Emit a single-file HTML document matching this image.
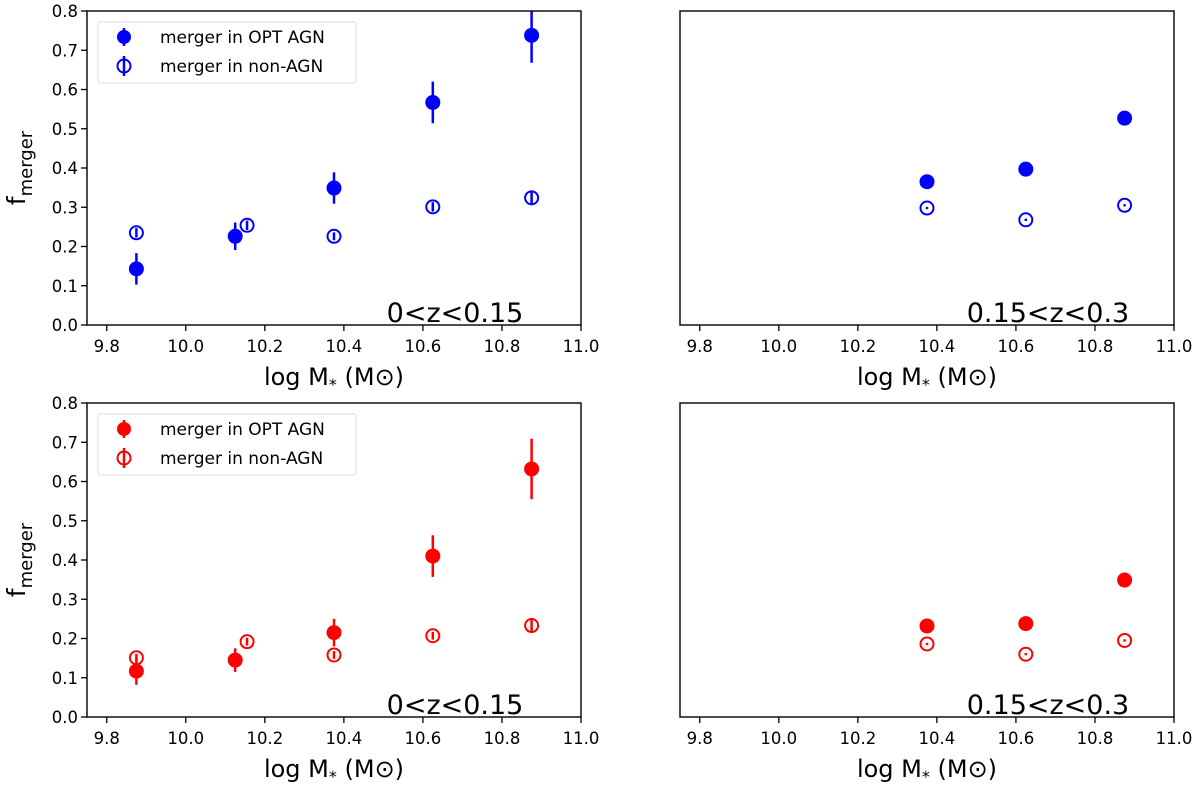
<!DOCTYPE html>
<html><head><meta charset="utf-8">
<style>
html,body{margin:0;padding:0;background:#fff;}
svg{display:block;font-family:"DejaVu Sans","Liberation Sans",sans-serif;}
</style></head>
<body>
<svg id="fig" width="1200" height="790" viewBox="0 0 1200 790" xmlns="http://www.w3.org/2000/svg"></svg>
<script>
const xTicks = [9.8, 10.0, 10.2, 10.4, 10.6, 10.8, 11.0];
const yTicks = [0.0, 0.1, 0.2, 0.3, 0.4, 0.5, 0.6, 0.7, 0.8];
// top-left (blue, 0<z<0.15)
const tlAgnX = [9.875, 10.125, 10.375, 10.625, 10.875];
const tlAgnY = [0.143, 0.226, 0.349, 0.567, 0.738];
const tlAgnErr = [0.04, 0.035, 0.04, 0.053, 0.07];
const tlNonX = [9.875, 10.155, 10.375, 10.625, 10.875];
const tlNonY = [0.235, 0.254, 0.226, 0.301, 0.324];
const tlNonErr = [0.012, 0.012, 0.01, 0.012, 0.018];
// top-right (blue, 0.15<z<0.3)
const trAgnX = [10.375, 10.625, 10.875];
const trAgnY = [0.365, 0.397, 0.527];
const trAgnErr = [0.008, 0.008, 0.016];
const trNonX = [10.375, 10.625, 10.875];
const trNonY = [0.298, 0.268, 0.305];
const trNonErr = [0.003, 0.003, 0.003];
// bottom-left (red, 0<z<0.15)
const blAgnX = [9.875, 10.125, 10.375, 10.625, 10.875];
const blAgnY = [0.117, 0.145, 0.215, 0.41, 0.632];
const blAgnErr = [0.035, 0.03, 0.035, 0.053, 0.077];
const blNonX = [9.875, 10.155, 10.375, 10.625, 10.875];
const blNonY = [0.151, 0.192, 0.158, 0.207, 0.233];
const blNonErr = [0.01, 0.01, 0.01, 0.01, 0.015];
// bottom-right (red, 0.15<z<0.3)
const brAgnX = [10.375, 10.625, 10.875];
const brAgnY = [0.232, 0.238, 0.349];
const brAgnErr = [0.006, 0.006, 0.012];
const brNonX = [10.375, 10.625, 10.875];
const brNonY = [0.186, 0.16, 0.195];
const brNonErr = [0.003, 0.003, 0.003];

const NS = "http://www.w3.org/2000/svg";
const svg = document.getElementById('fig');
function mk(tag, attrs, parent){ const e=document.createElementNS(NS,tag); for(const k in attrs) e.setAttribute(k,attrs[k]); (parent||svg).appendChild(e); return e; }

function panel(name, L, T, showY, color, agn, non, label, legend){
  const W=494, H=314, R=L+W, B=T+H;
  const g = mk('g',{});
  
  
  const sx = v => L + (v-9.75)/(11.0-9.75)*W;
  const sy = v => B - v/0.8*H;
  xTicks.forEach(t=>{
    const x=sx(t);
    mk('line',{x1:x,x2:x,y1:B,y2:B+6,stroke:'#000','stroke-width':1.3},g);
    const tx=mk('text',{x:x,y:B+27,'font-size':16.5,'text-anchor':'middle',fill:'#000'},g);
    tx.textContent=t.toFixed(1);
    
    
  });
  if(showY){
    yTicks.forEach(t=>{
      const y=sy(t);
      mk('line',{x1:L-6,x2:L,y1:y,y2:y,stroke:'#000','stroke-width':1.3},g);
      const tx=mk('text',{x:L-9,y:y+6,'font-size':16.5,'text-anchor':'end',fill:'#000'},g);
      tx.textContent=t.toFixed(1);
      
      
    });
    const yl=mk('text',{transform:`translate(${L-62},${(T+B)/2}) rotate(-90)`,'font-size':25,'text-anchor':'middle',fill:'#000'},g);
    yl.innerHTML='f<tspan font-size="18" dy="7">merger</tspan>';
    
    
  }
  const xl=mk('text',{x:(L+R)/2,y:B+60,'font-size':24,'text-anchor':'middle',fill:'#000'},g);
  xl.innerHTML='log M<tspan font-size="16" dy="5">*</tspan><tspan dy="-5"> (M⊙)</tspan>';
  
  
  const an=mk('text',{x:L+368,y:B-3,'font-size':27,'text-anchor':'middle',fill:'#000'},g);
  an.textContent=label;
  
  
  non.x.forEach((xv,i)=>{
    const x=sx(xv), y=sy(non.y[i]);
    const e=mk('line',{x1:x,x2:x,y1:sy(non.y[i]-non.e[i]),y2:sy(non.y[i]+non.e[i]),stroke:color,'stroke-width':2.5},g);
    
    
    const c=mk('circle',{cx:x,cy:y,r:6.5,fill:'none',stroke:color,'stroke-width':2},g);
    
    
  });
  agn.x.forEach((xv,i)=>{
    const x=sx(xv), y=sy(agn.y[i]);
    const e=mk('line',{x1:x,x2:x,y1:Math.min(B,sy(agn.y[i]-agn.e[i])),y2:Math.max(T,sy(agn.y[i]+agn.e[i])),stroke:color,'stroke-width':2.5},g);
    
    
    const c=mk('circle',{cx:x,cy:y,r:7.5,fill:color},g);
    
    
  });
  mk('rect',{x:L,y:T,width:W,height:H,fill:'none',stroke:'#000','stroke-width':1.4},g);
  if(legend){
    const lg=mk('g',{},g);
    
    
    mk('rect',{x:L+11,y:T+11,width:258,height:61,fill:'#fff',stroke:'#ddd','stroke-width':1,rx:2},lg);
    const lx=L+37, y1=T+26, y2=T+55;
    mk('line',{x1:lx,x2:lx,y1:y1-9,y2:y1+9,stroke:color,'stroke-width':2.5},lg);
    mk('circle',{cx:lx,cy:y1,r:7,fill:color},lg);
    mk('line',{x1:lx,x2:lx,y1:y2-10,y2:y2+10,stroke:color,'stroke-width':2.5},lg);
    mk('circle',{cx:lx,cy:y2,r:6.5,fill:'none',stroke:color,'stroke-width':2},lg);
    const t1=mk('text',{x:L+73,y:y1+6,'font-size':17,fill:'#000'},lg); t1.textContent='merger in OPT AGN';
    
    
    const t2=mk('text',{x:L+73,y:y2+6,'font-size':17,fill:'#000'},lg); t2.textContent='merger in non-AGN';
    
    
  }
}
panel('panel-top-left',87,11,true,'#0000ff',{x:tlAgnX,y:tlAgnY,e:tlAgnErr},{x:tlNonX,y:tlNonY,e:tlNonErr},'0<z<0.15',true);
panel('panel-top-right',680,11,false,'#0000ff',{x:trAgnX,y:trAgnY,e:trAgnErr},{x:trNonX,y:trNonY,e:trNonErr},'0.15<z<0.3',false);
panel('panel-bottom-left',87,403,true,'#ff0000',{x:blAgnX,y:blAgnY,e:blAgnErr},{x:blNonX,y:blNonY,e:blNonErr},'0<z<0.15',true);
panel('panel-bottom-right',680,403,false,'#ff0000',{x:brAgnX,y:brAgnY,e:brAgnErr},{x:brNonX,y:brNonY,e:brNonErr},'0.15<z<0.3',false);
</script>
</body></html>
